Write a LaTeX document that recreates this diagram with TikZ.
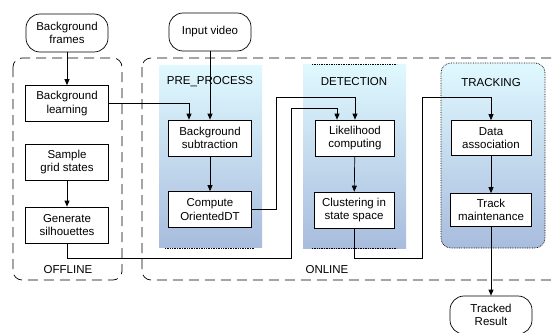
\documentclass[tikz,border=0pt]{standalone}
\usepackage{fontspec}
\setmainfont{Liberation Sans}
\usetikzlibrary{arrows.meta}
\definecolor{bandtop}{RGB}{224,249,255}
\definecolor{bandbot}{RGB}{168,188,221}

\begin{document}
\begin{tikzpicture}[x=1pt,y=-1pt,>={Triangle[length=6pt,width=5pt]},line width=0.7pt,
   every node/.style={font=\fontsize{11.5}{13.7}\selectfont},
   stepbox/.style={draw,fill=white,align=center,minimum width=83pt,minimum height=36pt,inner sep=1pt},
   pill/.style={draw,fill=white,align=center,rounded corners=14pt,minimum width=82pt,minimum height=38pt,inner sep=1pt},
   phase/.style={draw,dash pattern=on 10pt off 6pt,rounded corners=9pt},
   band/.style={top color=bandtop,bottom color=bandbot}]
   \clip (0,0) rectangle (553,332);

   % offline / online
   \draw[phase] (13,58) rectangle (122,280);
   \draw[phase] (142,58) rectangle (575,280);
   \node (offl) at (68,270) {OFFLINE};
   \node (onl) at (327,270) {ONLINE};

   % shaded stages
   \shade[band] (159,65) rectangle (262,247);
   \draw[densely dotted] (165,248) -- (255,248);
   \shade[band] (303,64) rectangle (406,248);
   \draw[densely dotted] (312,64) -- (397,64);
   \draw[densely dotted] (312,248) -- (397,248);
   \shade[band,rounded corners=10pt] (441,63) rectangle (545,248);
   \draw[densely dotted,rounded corners=10pt] (441,63) rectangle (545,248);

   \node (pre) at (210,82) {PRE\_PROCESS};
   \node (det) at (354,82) {DETECTION};
   \node (trk) at (491,83) {TRACKING};

   \node[pill] (bf) at (67,33) {Background\\frames};
   \node[pill] (iv) at (210,32) {Input video};
   \node[pill] (tr) at (491,315) {Tracked\\Result};

   \node[stepbox] (bl) at (67,103.5) {Background\\learning};
   \node[stepbox] (sg) at (67,162) {Sample\\grid states};
   \node[stepbox] (gs) at (67,225) {Generate\\silhouettes};

   \node[stepbox] (bs) at (210,138) {Background\\subtraction};
   \node[stepbox] (cod) at (210,209.5) {Compute\\OrientedDT};

   \node[stepbox,minimum width=79pt] (lc) at (355,138) {Likelihood\\computing};
   \node[stepbox,minimum width=80pt] (cs) at (354,210) {Clustering in\\state space};

   \node[stepbox,minimum width=80pt,minimum height=35pt] (da) at (491,138) {Data\\association};
   \node[stepbox,minimum width=81pt,minimum height=33pt] (tm) at (491,210) {Track\\maintenance};

   \draw[->] (bf) -- (bl);
   \draw[->] (sg) -- (gs);
   \draw[->] (iv) -- (bs);
   \draw[->] (bl.east) -| ([xshift=-21pt]bs.north);
   \draw[->] (bs) -- (cod);
   \draw[->] (cod.east) -| (276,97) -| (lc.north);
   \draw[->] (gs.south) |- (291,258) |- (337,108) -- ([xshift=-18pt]lc.north);
   \draw[->] (lc) -- (cs);
   \draw[->] (cs.south) |- (422,258) |- (491,97) -- (da.north);
   \draw[->] (da) -- (tm);
   \draw[->] (tm) -- (tr);

\end{tikzpicture}
\end{document}
